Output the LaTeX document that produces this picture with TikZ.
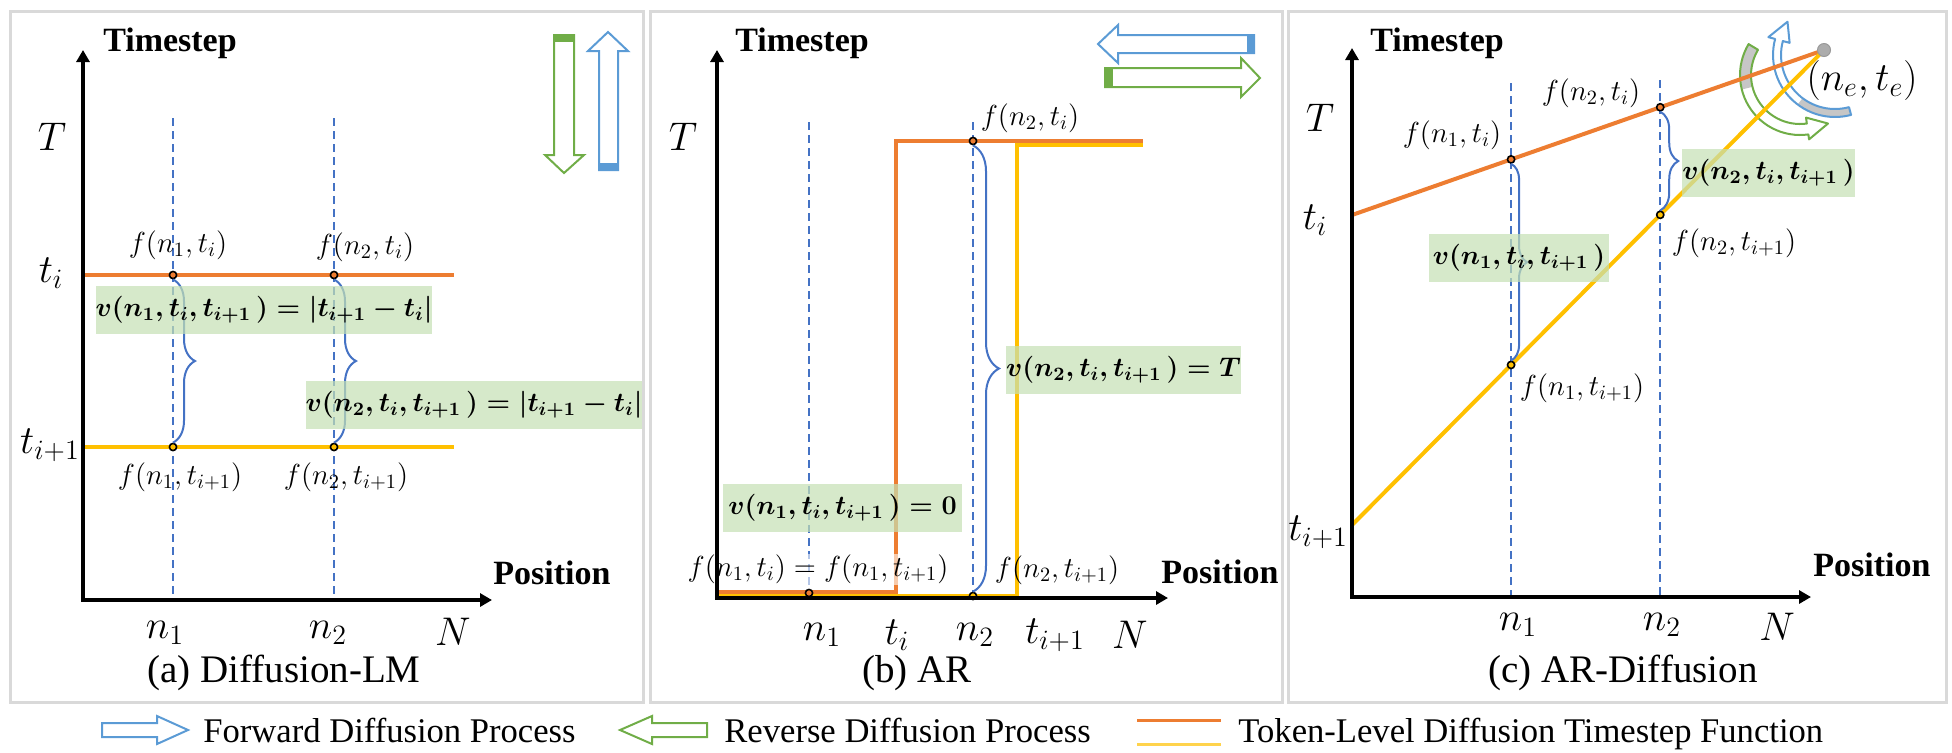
\RequirePackage{fix-cm}
\documentclass[tikz,border=0pt]{standalone}
\usepackage{amsmath}
\usepackage[no-math]{fontspec}
\setmainfont{Liberation Serif}
\usetikzlibrary{arrows.meta,decorations.pathreplacing}

\definecolor{lineorange}{RGB}{237,125,49}
\definecolor{lineyellow}{RGB}{255,192,0}
\definecolor{guideblue}{RGB}{68,114,196}
\definecolor{arrowblue}{RGB}{91,155,213}
\definecolor{arrowgreen}{RGB}{112,173,71}
\definecolor{boxgreen}{RGB}{197,224,180}
\definecolor{framegray}{RGB}{217,217,217}

\begin{document}
\begin{tikzpicture}[x=0.5pt,y=-0.5pt,
  panelframe/.style={draw=framegray,line width=1.5pt},
  axisline/.style={line width=2pt,{Triangle[length=6pt,width=6.5pt]}-{Triangle[length=6pt,width=6.5pt]}},
  guideline/.style={guideblue,line width=1pt,dash pattern=on 4pt off 2.5pt},
  fline/.style={line width=2pt},
  vbrace/.style={decorate,decoration={brace,amplitude=#1},guideblue,line width=1pt},
  fdot/.style={circle,draw=black,line width=0.8pt,inner sep=0pt,minimum size=3.6pt},
  vbox/.style={fill=boxgreen,fill opacity=0.7,text opacity=1,inner sep=0pt,minimum height=24pt,font=\fontsize{13.5}{16}\selectfont\boldmath},
  flabel/.style={inner sep=0pt,font=\fontsize{14.5}{17}\selectfont},
  axlabel/.style={inner sep=0pt,font=\fontsize{20}{24}\selectfont},
  axtitle/.style={inner sep=0pt,font=\fontsize{17}{20}\selectfont\bfseries},
  subcap/.style={inner sep=0pt,font=\fontsize{19.5}{23}\selectfont},
  legtext/.style={inner sep=0pt,anchor=base west,font=\fontsize{17.3}{20}\selectfont},
  blockarrow/.style={line width=1pt}]

 \useasboundingbox (0,0) rectangle (1952,752);

 % panel (a)
 \draw[panelframe] (10,11) rectangle (643,702);
 \draw[arrowgreen,blockarrow] (554,35) -- (574,35) -- (574,155) -- (584,155) -- (564,173) -- (545,155) -- (554,155) -- cycle;
 \fill[arrowgreen] (554,35) rectangle (574,42);
 \draw[arrowblue,blockarrow] (599,170) -- (618,170) -- (618,51) -- (628,51) -- (608,32) -- (588,51) -- (599,51) -- cycle;
 \fill[arrowblue] (599,163) rectangle (618,170);

 \draw[guideline] (173,118) -- (173,600);
 \draw[guideline] (334,118) -- (334,600);
 \draw[fline,lineorange] (83,275) -- (454,275);
 \draw[fline,lineyellow] (83,447) -- (454,447);
 \node[fdot,fill=lineorange] (a11) at (173,275) {};
 \node[fdot,fill=lineorange] (a21) at (334,275) {};
 \node[fdot,fill=lineyellow] (a12) at (173,447) {};
 \node[fdot,fill=lineyellow] (a22) at (334,447) {};
 \draw[vbrace=11pt] (a11) -- (a12);
 \draw[vbrace=11pt] (a21) -- (a22);
 \node[vbox,minimum width=167pt] (va1) at (264,310) {$v(n_1,t_i,t_{i+1}\,)=|t_{i+1}-t_i|$};
 \node[vbox,minimum width=167pt] (va2) at (474,405) {$v(n_2,t_i,t_{i+1}\,)=|t_{i+1}-t_i|$};
 \node[flabel] (fa11) at (178,245) {$f(n_1,t_i)$};
 \node[flabel] (fa21) at (365,247) {$f(n_2,t_i)$};
 \node[flabel] (fa12) at (180,477) {$f(n_1,t_{i+1})$};
 \node[flabel] (fa22) at (346,477) {$f(n_2,t_{i+1})$};

 \draw[axisline] (83,50) |- (492,600);
 \node[axtitle] (tsa) at (170,43) {Timestep};
 \node[axtitle] (psa) at (552,573) {Position};
 \node[axlabel] (Ta) at (52,137) {$T$};
 \node[axlabel] (tia) at (51,273) {$t_i$};
 \node[axlabel] (tja) at (50,445) {$t_{i+1}$};
 \node[axlabel] (n1a) at (165,633) {$n_1$};
 \node[axlabel] (n2a) at (328,633) {$n_2$};
 \node[axlabel] (Na) at (453,632) {$N$};
 \node[subcap] (capa) at (284,673) {(a) Diffusion-LM};

 % panel (b)
 \draw[panelframe] (650,11) rectangle (1282,702);
 \draw[arrowblue,blockarrow] (1254,35) -- (1118,35) -- (1118,25) -- (1098,44) -- (1118,63) -- (1118,53) -- (1254,53) -- cycle;
 \fill[arrowblue] (1247,35) rectangle (1254,53);
 \draw[arrowgreen,blockarrow] (1105,68) -- (1241,68) -- (1241,58) -- (1260,78) -- (1241,97) -- (1241,87) -- (1105,87) -- cycle;
 \fill[arrowgreen] (1105,68) rectangle (1113,87);

 \draw[guideline] (809,122) -- (809,598);
 \draw[guideline] (973,122) -- (973,598);
 \draw[fline,lineyellow] (719,595.5) -- (1017,595.5) -- (1017,144.5) -- (1143,144.5);
 \draw[fline,lineorange] (719,591.5) -- (896,591.5) -- (896,141) -- (1143,141);
 \node[fdot,fill=lineorange] (b1) at (809,593) {};
 \node[fdot,fill=lineorange] (b2t) at (973,141) {};
 \node[fdot,fill=lineyellow] (b2b) at (973,596) {};
 \draw[vbrace=13pt] (b2t) -- (b2b);
 \node[vbox,minimum width=117.5pt] (vb2) at (1123.5,369.5) {$v(n_2,t_i,t_{i+1}\,)=T$};
 \node[vbox,minimum width=119.5pt] (vb1) at (842.5,508) {$v(n_1,t_i,t_{i+1}\,)=0$};
 \node[flabel] (fb2t) at (1030,118) {$f(n_2,t_i)$};
 \node[flabel,fill=white,fill opacity=0.6,text opacity=1,inner sep=0.5pt] (fb1) at (818,569) {$f(n_1,t_i)=f(n_1,t_{i+1})$};
 \node[flabel] (fb2b) at (1057,570) {$f(n_2,t_{i+1})$};

 \draw[axisline] (717,50) |- (1168,598);
 \node[axtitle] (tsb) at (802,43) {Timestep};
 \node[axtitle] (psb) at (1220,572) {Position};
 \node[axlabel] (Tb) at (683,137) {$T$};
 \node[axlabel] (n1b) at (822,635) {$n_1$};
 \node[axlabel] (tib) at (897,635) {$t_i$};
 \node[axlabel] (n2b) at (975,635) {$n_2$};
 \node[axlabel] (tjb) at (1055,635) {$t_{i+1}$};
 \node[axlabel] (Nb) at (1130,635) {$N$};
 \node[subcap] (capb) at (917,673) {(b) AR};

 % panel (c)
 \draw[panelframe] (1288,11) rectangle (1946,702);
 \fill[gray!45] plot[domain=211:166,samples=12] ({1800+60*cos(\x)},{75+60*sin(\x)}) -- plot[domain=166:211,samples=12] ({1800+49*cos(\x)},{75+49*sin(\x)}) -- cycle;
 \draw[arrowgreen,line width=1pt,line join=round] plot[domain=211:82,samples=30] ({1800+60*cos(\x)},{75+60*sin(\x)}) -- ({1800+65*cos(82)},{75+65*sin(82)}) -- ({1800+56*cos(60)},{75+56*sin(60)}) -- ({1800+43*cos(82)},{75+43*sin(82)}) -- plot[domain=82:211,samples=30] ({1800+49*cos(\x)},{75+49*sin(\x)}) -- cycle;
 \fill[gray!45] plot[domain=75:127,samples=12] ({1835+62*cos(\x)},{55+62*sin(\x)}) -- plot[domain=127:75,samples=12] ({1835+54*cos(\x)},{55+54*sin(\x)}) -- cycle;
 \draw[arrowblue,line width=1pt,line join=round] plot[domain=75:195,samples=30] ({1835+62*cos(\x)},{55+62*sin(\x)}) -- ({1835+69*cos(195)},{55+69*sin(195)}) -- ({1835+58*cos(215)},{55+58*sin(215)}) -- ({1835+47*cos(195)},{55+47*sin(195)}) -- plot[domain=195:75,samples=30] ({1835+54*cos(\x)},{55+54*sin(\x)}) -- cycle;

 \draw[guideline] (1511,83) -- (1511,597);
 \draw[guideline] (1660,80) -- (1660,597);
 \coordinate (co) at (1352,215);
 \coordinate (cy) at (1352,525);
 \coordinate (cend) at (1824,50);
 \draw[fline,lineorange] (co) -- (cend)
   node[pos=0.337,fdot,fill=lineorange] (c11) {}
   node[pos=0.653,fdot,fill=lineorange] (c21) {};
 \draw[fline,lineyellow] (cy) -- (cend)
   node[pos=0.337,fdot,fill=lineyellow] (c12) {}
   node[pos=0.653,fdot,fill=lineyellow] (c22) {};
 \node[circle,fill=gray!65,draw=gray!80,line width=0.5pt,inner sep=0pt,minimum size=6.5pt] (ce) at (cend) {};
 \draw[vbrace=8pt] (c11) -- (c12);
 \draw[vbrace=9pt] (c21) -- (c22);
 \node[vbox,minimum width=90pt] (vc1) at (1519,258) {$v(n_1,t_i,t_{i+1}\,)$};
 \node[vbox,minimum width=86.5pt] (vc2) at (1768.5,173) {$v(n_2,t_i,t_{i+1}\,)$};
 \node[flabel] (fc11) at (1452,135) {$f(n_1,t_i)$};
 \node[flabel] (fc21) at (1591,93) {$f(n_2,t_i)$};
 \node[flabel] (fc22) at (1734,243) {$f(n_2,t_{i+1})$};
 \node[flabel] (fc12) at (1582,388) {$f(n_1,t_{i+1})$};
 \node[axlabel] (cel) at (1862,80) {$(n_e,t_e)$};

 \draw[axisline] (1352,48) |- (1811,597);
 \node[axtitle] (tsc) at (1437,43) {Timestep};
 \node[axtitle] (psc) at (1872,565) {Position};
 \node[axlabel] (Tc) at (1320,118) {$T$};
 \node[axlabel] (tic) at (1315,220) {$t_i$};
 \node[axlabel] (tjc) at (1318,532) {$t_{i+1}$};
 \node[axlabel] (n1c) at (1518,625) {$n_1$};
 \node[axlabel] (n2c) at (1662,625) {$n_2$};
 \node[axlabel] (Nc) at (1777,627) {$N$};
 \node[subcap] (capc) at (1623,673) {(c) AR-Diffusion};

 % legend
 \draw[arrowblue,blockarrow] (102,723) -- (157,723) -- (157,716) -- (188,730) -- (157,744) -- (157,737) -- (102,737) -- cycle;
 \node[legtext] (lfw) at (203,742) {Forward Diffusion Process};
 \draw[arrowgreen,blockarrow] (707,723) -- (652,723) -- (652,716) -- (620,730) -- (652,744) -- (652,737) -- (707,737) -- cycle;
 \node[legtext] (lrv) at (724,742) {Reverse Diffusion Process};
 \draw[lineorange,line width=1.5pt] (1137,720) -- (1221,720);
 \draw[lineyellow!70,line width=1.5pt] (1137,744) -- (1221,744);
 \node[legtext] (ltk) at (1238,742) {Token-Level Diffusion Timestep Function};

\end{tikzpicture}
\end{document}
